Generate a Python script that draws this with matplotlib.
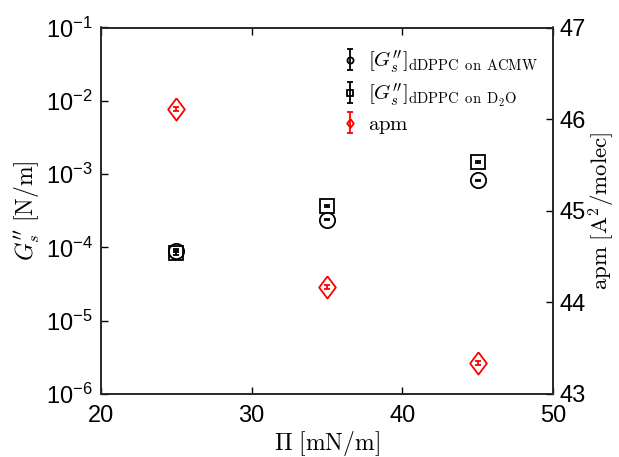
import matplotlib.pyplot as plt
import numpy as np

plt.rcParams['font.family'] = ['Liberation Sans', 'DejaVu Sans']
plt.rcParams['mathtext.fontset'] = 'cm'

# Data
pressure = np.array([25, 35, 45])
g_acmw = np.array([9.0e-5, 2.4e-4, 8.2e-4])
g_acmw_err = np.array([0.4e-5, 0.07e-4, 0.2e-4])
g_d2o = np.array([8.4e-5, 3.7e-4, 1.45e-3])
g_d2o_err = np.array([0.5e-5, 0.1e-4, 0.4e-4])
apm = np.array([46.11, 44.17, 43.34])
apm_err = np.array([0.025, 0.025, 0.025])

# diamond a bit wider than matplotlib's 'd'
diamond = [(0, 1), (0.75, 0), (0, -1), (-0.75, 0), (0, 1)]

W, H = 619, 457
fig = plt.figure(figsize=(W / 100, H / 100), dpi=100)
ax = fig.add_axes([101 / W, 1 - 394 / H, 452 / W, 366.5 / H])
ax2 = ax.twinx()

h1 = ax.errorbar(pressure, g_acmw, yerr=g_acmw_err, fmt='o', color='k', mfc='none',
                 ms=11, mew=1.3, elinewidth=1.3, capsize=2.5,
                 label=r"$[G_s^{\prime\prime}]_{\mathrm{dDPPC\ \,on\ \,ACMW}}$")
h2 = ax.errorbar(pressure, g_d2o, yerr=g_d2o_err, fmt='s', color='k', mfc='none',
                 ms=9.5, mew=1.3, elinewidth=1.3, capsize=2.5,
                 label=r"$[G_s^{\prime\prime}]_{\mathrm{dDPPC\ \,on\ \,D_2O}}$")
h3 = ax2.errorbar(pressure, apm, yerr=apm_err, fmt='', marker=diamond, linestyle='none',
                  color='red', mfc='none', ms=16, mew=1.3, elinewidth=1.3, capsize=2.5,
                  label=r"$\mathrm{apm}$")

ax.set_yscale('log')
ax.set_xlim(20, 50)
ax.set_ylim(1e-6, 1e-1)
ax.set_yticks([1e-6, 1e-5, 1e-4, 1e-3, 1e-2, 1e-1])
ax.set_yticklabels([r'$\mathregular{10^{-%d}}$' % k for k in [6, 5, 4, 3, 2, 1]])
ax.minorticks_off()
ax.set_xticks([20, 30, 40, 50])
ax2.set_ylim(43, 47)
ax2.set_yticks([43, 44, 45, 46, 47])

ax.tick_params(axis='x', direction='in', length=5, width=1, labelsize=17, top=True, pad=8)
ax.tick_params(axis='y', direction='in', length=5, width=1, labelsize=17, pad=6)
ax2.tick_params(axis='y', direction='in', length=5, width=1, labelsize=17, pad=5)
for a in (ax, ax2):
    for s in a.spines.values():
        s.set_linewidth(1.2)
        s.set_color('#262626')

ax.set_xlabel(r'$\Pi\ [\mathrm{mN/m}]$', fontsize=17, labelpad=1)
ax.set_ylabel(r"$G_s^{\prime\prime}\ [\mathrm{N/m}]$", fontsize=17, labelpad=3)
ax2.set_ylabel(r'$\mathrm{apm}\ [\mathrm{A^2/molec}]$', fontsize=16.5, labelpad=0)

ax2.legend(handles=[h1, h2, h3], loc='upper left',
           bbox_to_anchor=(342 / W, 1 - 48 / H), bbox_transform=fig.transFigure,
           frameon=False, fontsize=15, handlelength=0.8, markerscale=0.4,
           labelspacing=0.3, handletextpad=0.45, borderaxespad=0, borderpad=0)

fig.savefig('out.png', dpi=100)
